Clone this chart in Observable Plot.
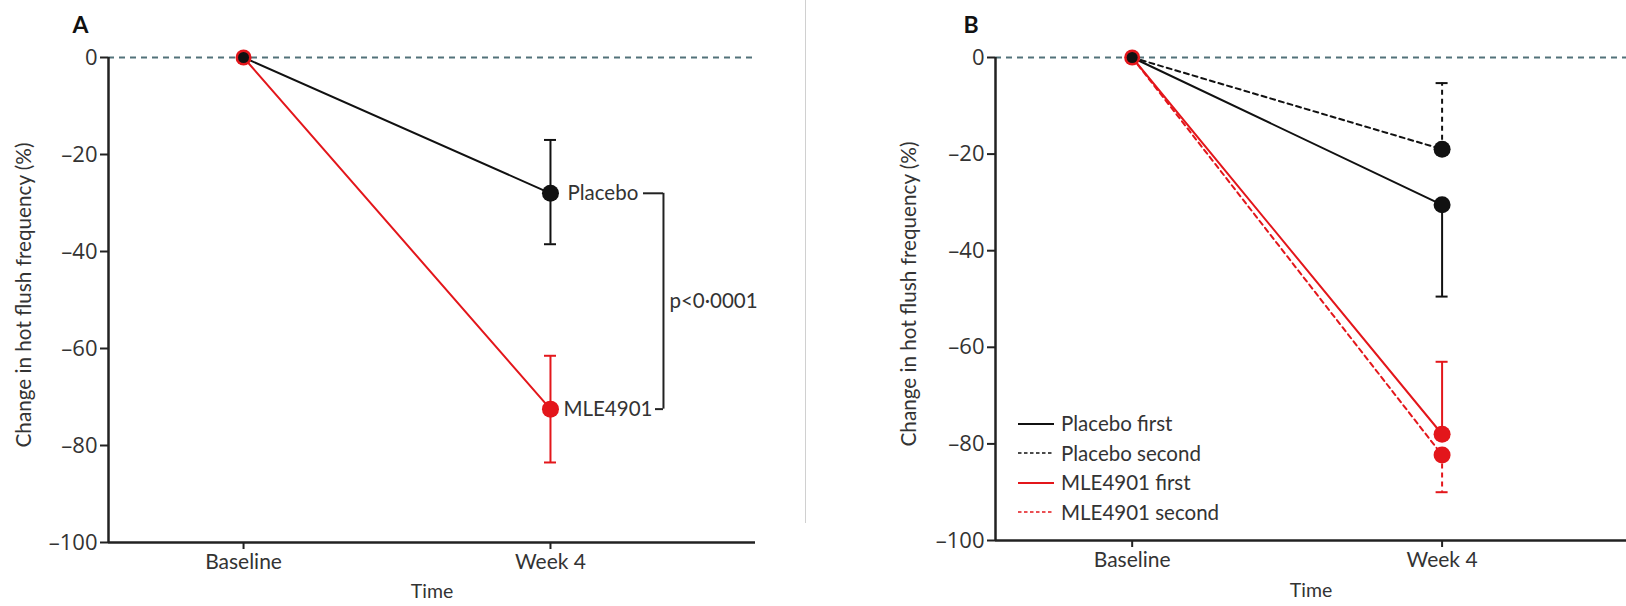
<!DOCTYPE html>
<html><head><meta charset="utf-8">
<script src="https://cdn.jsdelivr.net/npm/d3@7"></script>
<script src="https://cdn.jsdelivr.net/npm/@observablehq/plot@0.6"></script>
<style>
body{margin:0;background:#fff;font-family:Lato,"Open Sans",sans-serif;}
#wrap{position:relative;width:1626px;height:606px;display:flex;overflow:hidden;}
#a{width:805px;height:606px;}
#b{width:821px;height:606px;}
#divider{position:absolute;left:805px;top:0;width:1px;height:523px;background:#d0d0d0;}
#legend{position:absolute;left:1018px;top:409px;font-size:20.5px;color:#333;line-height:29.5px;}
#legend .row{display:flex;align-items:center;height:29.5px;}
#legend svg{margin-right:7px;}
</style></head><body>
<div id="wrap"><div id="a"></div><div id="b"></div><div id="divider"></div><div id="legend"></div></div>
<script>
// ---------- data ----------
const timepoints = ["Baseline", "Week 4"];
const yTicks = [0, -20, -40, -60, -80, -100];
const yTickLabels = ["0", "–20", "–40", "–60", "–80", "–100"];
const yTitle = "Change in hot flush frequency (%)";
const xTitle = "Time";

// Panel A: mean change with 95% CI at week 4
const groupsA = ["Placebo", "MLE4901"];
const meanA_placebo = [0, -28];
const meanA_mle = [0, -72.5];
const ciA_placebo = [-38.5, -17];
const ciA_mle = [-83.5, -61.5];
const pLabelA = "p<0·0001";

// Panel B: by treatment order (one-sided error bars)
const seriesB = ["Placebo first", "Placebo second", "MLE4901 first", "MLE4901 second"];
const meanB = [[0, -30.5], [0, -19], [0, -78], [0, -82.3]];
const errEndB = [-49.5, -5.3, -63, -90];

// ---------- style ----------
const RED = "#e3161b", BLACK = "#111", AXIS = "#222", TXT = "#333", ZERO = "#52727a";
const colorsB = [BLACK, BLACK, RED, RED];
const dashB = [null, "5,4", null, "5,4"];
const FONT = "Lato, 'Open Sans', sans-serif";

function baseMarks(xDomain, letter, letterDx, titleDx, timeDy) {
  return [
    Plot.ruleY([0], {stroke: ZERO, strokeWidth: 2, strokeDasharray: "6,5"}),
    Plot.ruleY([yTicks[yTicks.length - 1]], {stroke: AXIS, strokeWidth: 2.5}),
    Plot.ruleX([xDomain[0]], {stroke: AXIS, strokeWidth: 2.5}),
    Plot.axisY({ticks: yTicks, tickSize: 8, tickPadding: 3, tickFormat: d => yTickLabels[yTicks.indexOf(d)], label: null, fontSize: 22, fontFamily: "'Open Sans', sans-serif", stroke: AXIS, strokeWidth: 2, color: TXT}),
    Plot.axisX({ticks: [0, 1], tickSize: 7, tickPadding: 5, tickFormat: i => timepoints[i], label: null, fontSize: 21, stroke: AXIS, strokeWidth: 2, color: TXT}),
    Plot.text([yTitle], {frameAnchor: "left", rotate: -90, textAnchor: "middle", dx: titleDx, dy: -5, fontSize: 20.7, fill: TXT}),
    Plot.text([xTitle], {frameAnchor: "bottom", dy: timeDy, fontSize: 19.5, fill: TXT}),
    Plot.text([letter], {frameAnchor: "top-left", dx: letterDx, dy: -41, fontSize: 23, fontWeight: "bold", fill: BLACK, textAnchor: "start"})
  ];
}

function dotsBaseline(y0) {
  return [
    Plot.dot([0], {x: d => d, y: () => y0, r: 8, fill: RED}),
    Plot.dot([0], {x: d => d, y: () => y0, r: 5.5, fill: BLACK})
  ];
}

// ---------- Panel A ----------
const xDomA = [-0.44, 1.668];
const linesA = [
  ...timepoints.map((t, i) => ({series: "Placebo", x: i, y: meanA_placebo[i]})),
  ...timepoints.map((t, i) => ({series: "MLE4901", x: i, y: meanA_mle[i]}))
];
const pA = Plot.plot({
  width: 805, height: 606,
  marginLeft: 108, marginRight: 50, marginTop: 57, marginBottom: 64,
  x: {type: "linear", domain: xDomA},
  y: {domain: [-100, 0]},
  style: {fontFamily: FONT, color: TXT, background: "transparent"},
  marks: [
    ...baseMarks(xDomA, "A", -36, -84, 55),
    // error bars
    Plot.ruleX([1], {y1: ciA_placebo[0], y2: ciA_placebo[1], stroke: BLACK, strokeWidth: 2}),
    Plot.ruleY(ciA_placebo, {x1: 1, x2: 1, insetLeft: -6, insetRight: -6, stroke: BLACK, strokeWidth: 2}),
    Plot.ruleX([1], {y1: ciA_mle[0], y2: ciA_mle[1], stroke: RED, strokeWidth: 2}),
    Plot.ruleY(ciA_mle, {x1: 1, x2: 1, insetLeft: -6, insetRight: -6, stroke: RED, strokeWidth: 2}),
    // lines
    Plot.line(linesA.filter(d => d.series === "Placebo"), {x: "x", y: "y", stroke: BLACK, strokeWidth: 2}),
    Plot.line(linesA.filter(d => d.series === "MLE4901"), {x: "x", y: "y", stroke: RED, strokeWidth: 2}),
    // week 4 dots
    Plot.dot([1], {x: d => d, y: () => meanA_placebo[1], r: 8.5, fill: BLACK}),
    Plot.dot([1], {x: d => d, y: () => meanA_mle[1], r: 8.5, fill: RED}),
    ...dotsBaseline(0),
    // labels
    Plot.text([groupsA[0]], {x: () => 1, y: () => meanA_placebo[1], dx: 17, textAnchor: "start", fontSize: 20.5, fill: TXT}),
    Plot.text([groupsA[1]], {x: () => 1, y: () => meanA_mle[1], dx: 13, textAnchor: "start", fontSize: 20.5, fill: TXT}),
    // bracket
    Plot.ruleY([meanA_placebo[1]], {x1: 1, x2: 1, dx: 93, insetRight: -20, stroke: AXIS, strokeWidth: 2}),
    Plot.ruleY([meanA_mle[1]], {x1: 1, x2: 1, dx: 105, insetRight: -8, stroke: AXIS, strokeWidth: 2}),
    Plot.ruleX([1], {y1: meanA_placebo[1], y2: meanA_mle[1], dx: 113, stroke: AXIS, strokeWidth: 2}),
    Plot.text([pLabelA], {x: () => 1, y: () => (meanA_placebo[1] + meanA_mle[1]) / 2, dx: 119, textAnchor: "start", fontSize: 20.5, fill: TXT})
  ]
});
document.getElementById("a").appendChild(pA);

// ---------- Panel B ----------
const xDomB = [-0.441, 1.595];
const marksB = [];
seriesB.forEach((s, k) => {
  const data = timepoints.map((t, i) => ({x: i, y: meanB[k][i]}));
  marksB.push(Plot.ruleX([1], {y1: meanB[k][1], y2: errEndB[k], stroke: colorsB[k], strokeWidth: 2, strokeDasharray: dashB[k]}));
  marksB.push(Plot.ruleY([errEndB[k]], {x1: 1, x2: 1, insetLeft: -6, insetRight: -6, stroke: colorsB[k], strokeWidth: 2}));
  marksB.push(Plot.line(data, {x: "x", y: "y", stroke: colorsB[k], strokeWidth: 2, strokeDasharray: dashB[k]}));
});
seriesB.forEach((s, k) => {
  marksB.push(Plot.dot([1], {x: d => d, y: () => meanB[k][1], r: 8.5, fill: colorsB[k]}));
});
const pB = Plot.plot({
  width: 821, height: 606,
  marginLeft: 190, marginRight: 0, marginTop: 57, marginBottom: 66,
  x: {type: "linear", domain: xDomB},
  y: {domain: [-100, 0]},
  style: {fontFamily: FONT, color: TXT, background: "transparent"},
  marks: [
    ...baseMarks(xDomB, "B", -32, -86, 56),
    ...marksB,
    ...dotsBaseline(0)
  ]
});
document.getElementById("b").appendChild(pB);

// ---------- Legend (panel B) ----------
const legend = document.getElementById("legend");
seriesB.forEach((s, k) => {
  const row = document.createElement("div");
  row.className = "row";
  const svg = d3.create("svg").attr("width", 36).attr("height", 10);
  svg.append("line").attr("x1", 0).attr("x2", 36).attr("y1", 5).attr("y2", 5)
    .attr("stroke", colorsB[k]).attr("stroke-width", dashB[k] ? 1.6 : 2.2)
    .attr("stroke-dasharray", dashB[k] ? "3.5,2.5" : null);
  row.appendChild(svg.node());
  const span = document.createElement("span");
  span.textContent = s;
  row.appendChild(span);
  legend.appendChild(row);
});
</script>
</body></html>
